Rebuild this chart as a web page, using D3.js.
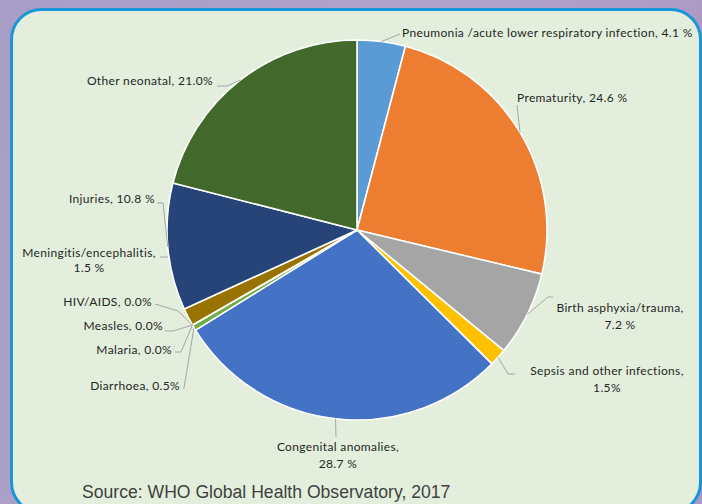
<!DOCTYPE html>
<html><head><meta charset="utf-8">
<script src="https://cdn.jsdelivr.net/npm/d3@7"></script>
<style>html,body{margin:0;padding:0;overflow:hidden;background:#a99fc6}</style>
</head><body>
<svg id="c" width="702" height="504"></svg>
<script>
const categories = ["Pneumonia /acute lower respiratory infection","Prematurity","Birth asphyxia/trauma","Sepsis and other infections","Congenital anomalies","Diarrhoea","Malaria","Measles","HIV/AIDS","Meningitis/encephalitis","Injuries","Other neonatal"];
const values = [4.1, 24.6, 7.2, 1.5, 28.7, 0.5, 0.0, 0.0, 0.0, 1.5, 10.8, 21.0];
const valueLabels = ["4.1 %","24.6 %","7.2 %","1.5%","28.7 %","0.5%","0.0%","0.0%","0.0%","1.5 %","10.8 %","21.0%"];
const colors = ["#5b9bd5","#ed7d31","#a5a5a5","#ffc000","#4472c4","#70ad47","#255e91","#9e480e","#636363","#997300","#264478","#43682b"];
const source = "Source: WHO Global Health Observatory, 2017";

// label layout: lines, anchor, x, baseline y, leader points ("E" = slice edge)
const layout = [
  {lines:[0], x:402, y:37, a:"start", lead:[[400,34],"E"]},
  {lines:[0], x:517, y:102, a:"start", lead:[[517,105],"E"]},
  {lines:[1], x:620, y:312, a:"middle", lead:[[553,297],[548,297],"E"]},
  {lines:[1], x:607, y:375, a:"middle", lead:[[515,374],[508,374],"E"]},
  {lines:[1], x:338, y:451, a:"middle", lead:[[336,437],"E"]},
  {lines:[0], x:180, y:390, a:"end", lead:[[183,388],[184,388],"E"]},
  {lines:[0], x:172, y:354, a:"end", lead:[[175,352],[181,352],"E"]},
  {lines:[0], x:163, y:330, a:"end", lead:[[165,331],[173,331],"E"]},
  {lines:[0], x:152, y:306, a:"end", lead:[[155,304],[178,311],"E"]},
  {lines:[1], x:89, y:257, a:"middle", lead:[[160,257],[168,257]]},
  {lines:[0], x:155, y:203, a:"end", lead:[[157,203],[163,203],"E"]},
  {lines:[0], x:213, y:85, a:"end", lead:[[217,86],[227,86],"E"]}
];

const svg = d3.select("#c");
const defs = svg.append("defs");
const g1 = defs.append("linearGradient").attr("id","bg").attr("x1","0").attr("y1","0").attr("x2","1").attr("y2","0.3");
g1.append("stop").attr("offset","0").attr("stop-color","#a79ec7");
g1.append("stop").attr("offset","0.6").attr("stop-color","#b1a3cc");
g1.append("stop").attr("offset","1").attr("stop-color","#ad97c4");
svg.append("rect").attr("width",702).attr("height",504).attr("fill","url(#bg)");
svg.append("rect").attr("x",11.5).attr("y",9.5).attr("width",689).attr("height",503).attr("rx",30).attr("ry",30)
  .attr("fill","#e3efdc").attr("stroke","#1896d8").attr("stroke-width",3);

const cx = 357, cy = 230, R = 190;
const pie = d3.pie().value(d => d.v).sort(null);
const data = categories.map((c,i) => ({c, v: values[i], i}));
const arcs = pie(data);
const arc = d3.arc().innerRadius(0).outerRadius(R);
const gp = svg.append("g").attr("transform",`translate(${cx},${cy})`);
gp.selectAll("path").data(arcs).join("path").attr("d",arc)
  .attr("fill",d=>colors[d.data.i]).attr("stroke","#ffffff").attr("stroke-width",1.6).attr("stroke-linejoin","round");

const edge = d => { const m=(d.startAngle+d.endAngle)/2; return [cx+R*Math.sin(m), cy-R*Math.cos(m)]; };
const lab = svg.append("g").attr("font-family","Lato, 'Open Sans', sans-serif").attr("font-size","12px")
  .attr("letter-spacing","0.35px").attr("fill","#262626");
arcs.forEach((d,k) => {
  const L = layout[k];
  const pts = L.lead.map(p => p === "E" ? edge(d) : p);
  lab.append("path").attr("d", d3.line()(pts)).attr("fill","none").attr("stroke","#a6a6a6").attr("stroke-width",1);
  const name = categories[k], val = valueLabels[k];
  const t = lab.append("text").attr("text-anchor",L.a).attr("x",L.x).attr("y",L.y);
  if (L.lines[0] === 0) {
    t.text(name + (k===1 ? ",  " : ", ") + val);
  } else {
    t.append("tspan").attr("x",L.x).text(name + ",");
    t.append("tspan").attr("x",L.x).attr("dy",k===9?15:17).text(val);
  }
});
svg.append("text").attr("x",82).attr("y",498).attr("font-family","'Liberation Sans', Arial, sans-serif")
  .attr("font-size","17.6px").attr("fill","#3f3f3f").text(source);
</script>
</body></html>
